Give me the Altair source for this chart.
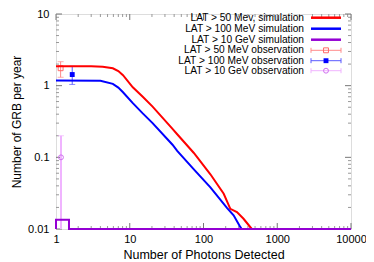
import altair as alt
import pandas as pd

# ---- data ----
red_x = [1, 3, 4.3, 5.9, 7, 8.1, 11, 15, 20.4, 38, 44, 74, 124, 188, 231, 284, 349, 452]
red_y = [1.86, 1.86, 1.84, 1.75, 1.6, 1.40, 0.95, 0.70, 0.51, 0.25, 0.21, 0.115, 0.058, 0.031, 0.0191, 0.0172, 0.0139, 0.0100]

blue_x = [1, 4, 5.9, 7, 8.1, 11, 15, 20.4, 38, 44, 74, 124, 208, 256, 315, 330]
blue_y = [1.18, 1.17, 1.06, 0.94, 0.81, 0.57, 0.41, 0.30, 0.15, 0.123, 0.068, 0.038, 0.0197, 0.0155, 0.0107, 0.0100]

purple_x = [1, 1, 1.5, 1.5, 10000]
purple_y = [0.01, 0.0135, 0.0135, 0.01, 0.01]

obs_x = [1.155, 1.66, 1.168]
obs_y = [1.75, 1.43, 0.10]
obs_lo = [1.31, 1.04, 0.01]
obs_hi = [2.16, 1.86, 0.20]

legend_labels = [
    "LAT > 50 Mev, simulation",
    "LAT > 100 MeV simulation",
    "LAT > 10 GeV simulation",
    "LAT > 50 MeV observation",
    "LAT > 100 MeV observation",
    "LAT > 10 GeV observation",
]

x_label_values = [1, 10, 100, 1000, 10000]
y_label_values = [0.01, 0.1, 1, 10]
x_minor = [m * d for d in [1, 10, 100, 1000] for m in range(2, 10)]
y_minor = [m * d for d in [0.01, 0.1, 1] for m in range(2, 10)]

W, H = 295, 215
FONT = "Liberation Sans"

RED, BLUE, PURPLE = "#ff0000", "#0000ff", "#9400d3"
RED_OBS_BAR, RED_OBS_MK = "#ff8a8a", "#ff6a6a"
BLUE_OBS_BAR, BLUE_OBS_MK = "#5a5aff", "#0000ff"
PUR_OBS_BAR, PUR_OBS_MK = "#f0b4ff", "#d070f0"

xscale = alt.Scale(type="log", domain=[1, 10000])
yscale = alt.Scale(type="log", domain=[0.01, 10])

X = alt.X("x:Q", scale=xscale, title="Number of Photons Detected",
          axis=alt.Axis(values=x_label_values, format="~g", ticks=False, domain=False, grid=False,
                        labelFlush=False, labelOverlap=False,
                        labelFontSize=11, labelPadding=4, titleFontSize=12.5, titleFontWeight="normal",
                        titlePadding=4, labelColor="#000", titleColor="#000", labelFont=FONT, titleFont=FONT))
Y = alt.Y("y:Q", scale=yscale, title="Number of GRB per year",
          axis=alt.Axis(values=y_label_values, format="~g", ticks=False, domain=False, grid=False,
                        labelFlush=False, labelOverlap=False,
                        labelFontSize=11, labelPadding=7, titleFontSize=12, titleFontWeight="normal",
                        titlePadding=4, labelColor="#000", titleColor="#000", labelFont=FONT, titleFont=FONT))


def curve(xs, ys, color):
    df = pd.DataFrame({"x": xs, "y": ys, "o": range(len(xs))})
    return alt.Chart(df).mark_line(color=color, strokeWidth=2, clip=False).encode(
        x=X, y=Y, order="o:Q")


layers = []


def xticks(vals, length, color):
    df = pd.DataFrame({"x": vals})
    bot = alt.Chart(df).mark_rule(color=color, strokeWidth=1).encode(
        x=X, y=alt.value(H), y2=alt.value(H - length))
    top = alt.Chart(df).mark_rule(color=color, strokeWidth=1).encode(
        x=X, y=alt.value(0), y2=alt.value(length))
    return [bot, top]


def yticks(vals, length, color):
    df = pd.DataFrame({"y": vals})
    left = alt.Chart(df).mark_rule(color=color, strokeWidth=1).encode(
        y=Y, x=alt.value(0), x2=alt.value(length))
    right = alt.Chart(df).mark_rule(color=color, strokeWidth=1).encode(
        y=Y, x=alt.value(W), x2=alt.value(W - length))
    return [left, right]


layers += xticks(x_minor, 3, "#999999")
layers += yticks(y_minor, 3, "#999999")
layers += xticks(x_label_values, 6, "#777777")
layers += yticks(y_label_values, 6, "#777777")

# observations
obs_styles = [
    (RED_OBS_BAR, RED_OBS_MK, "square", False, 1),
    (BLUE_OBS_BAR, BLUE_OBS_MK, "square", True, 1),
    (PUR_OBS_BAR, PUR_OBS_MK, "circle", False, 2),
]
for i, (bar_c, mk_c, shape, filled, bw) in enumerate(obs_styles):
    df = pd.DataFrame({"x": [obs_x[i]], "y": [obs_y[i]], "lo": [obs_lo[i]], "hi": [obs_hi[i]]})
    layers.append(alt.Chart(df).mark_rule(color=bar_c, strokeWidth=bw).encode(
        x=X, y=alt.Y("lo:Q", scale=yscale), y2="hi:Q"))
    layers.append(alt.Chart(df).mark_tick(color=bar_c, orient="horizontal", size=6, thickness=1).encode(
        x=X, y=alt.Y("hi:Q", scale=yscale)))
    if obs_lo[i] > 0.01:
        layers.append(alt.Chart(df).mark_tick(color=bar_c, orient="horizontal", size=6, thickness=1).encode(
            x=X, y=alt.Y("lo:Q", scale=yscale)))
    layers.append(alt.Chart(df).mark_point(shape=shape, filled=filled, color=mk_c, size=24,
                                           strokeWidth=1, opacity=1).encode(x=X, y=Y))

# simulation curves
layers.append(curve(red_x, red_y, RED))
layers.append(curve(blue_x, blue_y, BLUE))
layers.append(curve(purple_x, purple_y, PURPLE))

# manual legend (labels right-aligned, samples to the right)
row_y = [3.7, 14.7, 25.7, 36.3, 46.7, 56.7]
text_right = 248
sx1, sx2, sxc = 255, 285, 270
sim_colors = [RED, BLUE, PURPLE]
one = pd.DataFrame({"k": [0]})
for i, lab in enumerate(legend_labels):
    layers.append(alt.Chart(pd.DataFrame({"label": [lab]})).mark_text(
        align="right", baseline="middle", font=FONT, fontSize=10.2, color="#000").encode(
        text="label:N", x=alt.value(text_right), y=alt.value(row_y[i])))
for i in range(3):
    layers.append(alt.Chart(one).mark_rule(color=sim_colors[i], strokeWidth=2.5).encode(
        x=alt.value(sx1), x2=alt.value(sx2), y=alt.value(row_y[i])))
for j, (bar_c, mk_c, shape, filled, bw) in enumerate(obs_styles):
    ry = row_y[3 + j]
    layers.append(alt.Chart(one).mark_rule(color=bar_c, strokeWidth=1).encode(
        x=alt.value(sx1), x2=alt.value(sx2), y=alt.value(ry)))
    for xx in (sx1, sx2):
        layers.append(alt.Chart(one).mark_rule(color=bar_c, strokeWidth=1).encode(
            x=alt.value(xx), y=alt.value(ry - 2.5), y2=alt.value(ry + 2.5)))
    layers.append(alt.Chart(one).mark_point(shape=shape, filled=filled, color=mk_c, size=24,
                                            strokeWidth=1, opacity=1).encode(
        x=alt.value(sxc), y=alt.value(ry)))

chart = alt.layer(*layers).properties(
    width=W, height=H,
    autosize=alt.AutoSizeParams(type="none"),
    padding={"left": 48, "top": 6, "right": 15, "bottom": 32},
    background="white",
).configure_view(stroke="#333333", strokeWidth=1).configure(font=FONT)

chart.save("out.html", embed_options={"renderer": "svg", "actions": False})
